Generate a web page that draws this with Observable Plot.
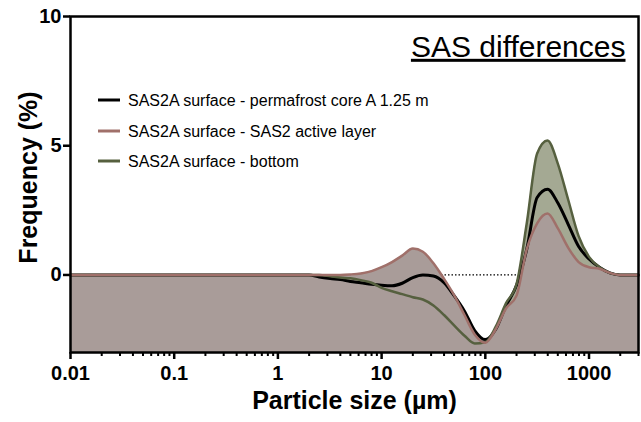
<!DOCTYPE html>
<html><head><meta charset="utf-8">
<script src="https://cdn.jsdelivr.net/npm/d3@7"></script>
<script src="https://cdn.jsdelivr.net/npm/@observablehq/plot@0.6"></script>
<style>
body{margin:0;background:#fff}
#chart svg{font-family:"Liberation Sans",Arial,sans-serif}
</style>
</head><body><div id="chart"></div>
<script>
// Particle size classes (µm)
const sizes = [0.01, 2, 2.5, 3.2, 4, 5, 6.3, 8, 10, 12.6, 15.8, 20, 25, 31.6, 40, 50, 63, 79, 100, 126, 158, 200, 251, 316, 398, 501, 631, 794, 1000, 1259, 1585, 1995, 3000];
// SAS2A surface - permafrost core A 1.25 m
const coreA = [0, 0, -0.08, -0.14, -0.18, -0.25, -0.3, -0.36, -0.4, -0.42, -0.32, -0.1, 0.0, -0.04, -0.3, -0.8, -1.4, -2.15, -2.5, -2.1, -1.2, -0.4, 1.0, 3.0, 3.32, 2.78, 1.95, 1.1, 0.62, 0.3, 0.08, 0, 0];
// SAS2A surface - SAS2 active layer
const activeLayer = [0, 0, 0, 0, 0, 0.02, 0.06, 0.15, 0.3, 0.5, 0.75, 1.02, 0.9, 0.45, -0.15, -0.78, -1.55, -2.3, -2.62, -2.1, -1.3, -0.8, 1.0, 2.0, 2.38, 1.8, 1.05, 0.5, 0.3, 0.24, 0.08, 0, 0];
// SAS2A surface - bottom
const bottomLayer = [0, 0, 0, -0.05, -0.1, -0.13, -0.2, -0.3, -0.5, -0.63, -0.74, -0.86, -0.95, -1.18, -1.55, -1.95, -2.35, -2.65, -2.6, -2.0, -1.1, -0.35, 2.0, 4.7, 5.2, 4.3, 2.9, 1.5, 0.7, 0.3, 0.08, 0, 0];

const seriesNames = ["SAS2A surface - permafrost core A 1.25 m", "SAS2A surface - SAS2 active layer", "SAS2A surface - bottom"];
const lineColors = ["#000000", "#a0706a", "#56603f"];
const fillColors = ["#8e8e8e", "#a99c99", "#a4a993"];
const xTicks = [0.01, 0.1, 1, 10, 100, 1000];
const xMinor = [];
for (const d of [0.01, 0.1, 1, 10, 100, 1000]) for (let k = 2; k <= 9; k++) if (d * k <= 3000) xMinor.push(+(d * k).toPrecision(3));
const yTicks = [0, 5, 10];
const titleText = "SAS differences";
const xLabel = "Particle size (µm)";
const yLabel = "Frequency (%)";

const mk = (vals) => sizes.map((s, i) => ({size: s, v: vals[i]}));
const dA = mk(coreA), dB = mk(activeLayer), dC = mk(bottomLayer);
const curve = "monotone-x";

const plot = Plot.plot({
  width: 641, height: 422,
  marginLeft: 70, marginRight: 3, marginTop: 16, marginBottom: 70,
  style: {fontFamily: '"Liberation Sans", Arial, sans-serif', background: "#fff"},
  x: {type: "log", domain: [0.01, 3000]},
  y: {domain: [-3, 10]},
  marks: [
    Plot.ruleY([0], {stroke: "#000", strokeWidth: 1.3, strokeDasharray: "1.5,2"}),
    Plot.areaY(dA, {x: "size", y1: -3, y2: "v", fill: fillColors[0], curve}),
    Plot.areaY(dC, {x: "size", y1: -3, y2: "v", fill: fillColors[2], curve}),
    Plot.areaY(dB, {x: "size", y1: -3, y2: "v", fill: fillColors[1], curve}),
    Plot.line(dA, {x: "size", y: "v", stroke: lineColors[0], strokeWidth: 3, curve}),
    Plot.line(dC, {x: "size", y: "v", stroke: lineColors[2], strokeWidth: 2.5, curve}),
    Plot.line(dB, {x: "size", y: "v", stroke: lineColors[1], strokeWidth: 2.5, curve}),
    Plot.frame({stroke: "#000", strokeWidth: 2.5}),
    Plot.axisX({ticks: xMinor, tickSize: 4, text: null, strokeWidth: 2, label: null}),
    Plot.axisX({ticks: xTicks, tickSize: 7, tickPadding: 6, tickFormat: d => String(d), strokeWidth: 2.5, fontSize: 20, fontWeight: "bold", fill: "#000", label: null}),
    Plot.axisY({ticks: yTicks, tickSize: 7, tickPadding: 2, strokeWidth: 2.5, fontSize: 20, fontWeight: "bold", fill: "#000", label: null}),
    Plot.text([xLabel], {frameAnchor: "bottom", dy: 48, lineAnchor: "middle", textAnchor: "middle", fontSize: 25, fontWeight: "bold", fill: "#000", text: d => d}),
    Plot.text([yLabel], {frameAnchor: "left", dx: -42, dy: -7, rotate: -90, lineAnchor: "middle", textAnchor: "middle", fontSize: 25, fontWeight: "bold", fill: "#000", text: d => d}),
    Plot.text([titleText], {frameAnchor: "top-right", dx: -13, dy: 19, textAnchor: "end", lineAnchor: "top", fontSize: 30, fill: "#000", text: d => d})
  ]
});

// underline the title
d3.select(plot).selectAll("text").filter(function() { return this.textContent === titleText; })
  .style("text-decoration", "underline");

// legend inside the plot
const svg = d3.select(plot);
const lg = svg.append("g").attr("aria-label", "legend").attr("text-anchor", "start");
const rowY = [100, 131, 161];
seriesNames.forEach((name, i) => {
  lg.append("line").attr("x1", 98).attr("x2", 120).attr("y1", rowY[i]).attr("y2", rowY[i])
    .attr("stroke", lineColors[i]).attr("stroke-width", 3);
  lg.append("text").attr("x", 128).attr("y", rowY[i]).attr("dy", "0.35em")
    .attr("text-anchor", "start").attr("font-size", 16).attr("fill", "#000").text(name);
});

document.getElementById("chart").appendChild(plot);
</script>
</body></html>
